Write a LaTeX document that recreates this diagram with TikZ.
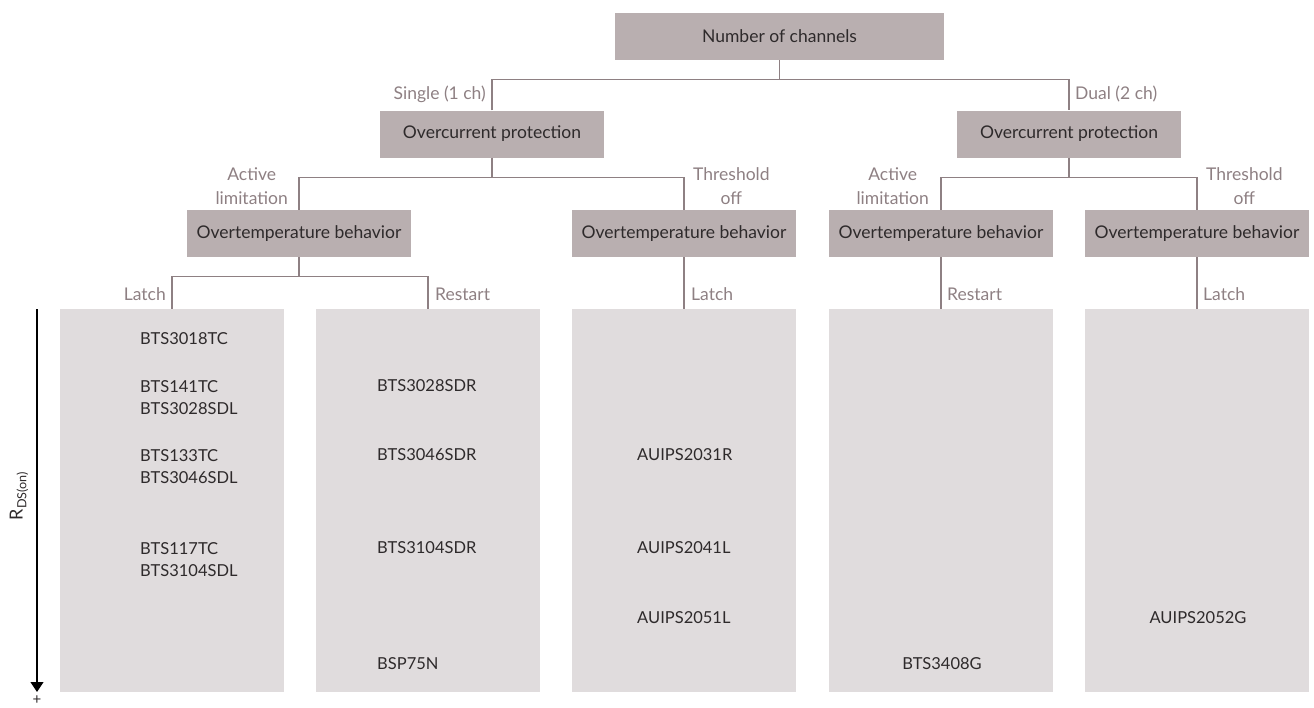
\documentclass[tikz,border=0pt]{standalone}
\usepackage{fontspec}
\setmainfont{Lato}
\usepackage{tikz}
\usetikzlibrary{calc}
\usetikzlibrary{arrows.meta}
\definecolor{qfill}{HTML}{B9AFB0}
\definecolor{pfill}{HTML}{E0DCDD}
\definecolor{qline}{HTML}{8E8083}
\definecolor{qtext}{HTML}{2E2A2B}
\newcommand{\qfont}{\fontsize{17.5}{24}\selectfont}
\newcommand{\pfont}{\fontsize{16.5}{22}\selectfont}
\tikzset{
  qbox/.style={fill=qfill, text=qtext, minimum width=224, minimum height=47, inner sep=0, font=\qfont},
  pbox/.style={fill=pfill, minimum width=224, minimum height=383, inner sep=0},
  part/.style={text=qtext, align=left, inner sep=0, font=\pfont},
  conn/.style={draw=qline, line width=1.1pt},
  lbl/.style={text=qline, align=center, inner sep=0, font=\qfont},
}
\begin{document}
\begin{tikzpicture}[x=1pt, y=-1pt]
\useasboundingbox (0,0) rectangle (1314,707);
% decision boxes
\node[qbox, minimum width=329] (num) at (779.5,36.5) {Number of channels};
\node[qbox] (ocs) at (492,134) {Overcurrent protection};
\node[qbox] (ocd) at (1069,134) {Overcurrent protection};
\node[qbox] (ots1) at (299,233.5) {Overtemperature behavior};
\node[qbox] (ots2) at (684,233.5) {Overtemperature behavior};
\node[qbox] (otd1) at (941,233.5) {Overtemperature behavior};
\node[qbox] (otd2) at (1197,233.5) {Overtemperature behavior};
% product columns
\foreach \n/\x in {p1/172, p2/428, p3/684, p4/941, p5/1197} {
  \node[pbox] (\n) at (\x,500.5) {};
}
% connectors
\coordinate (j0) at ($(num.south)+(0,19)$);
\draw[conn] (num.south) -- (j0);
\draw[conn] (ocs.north) |- (j0) -| (ocd.north);
\coordinate (j1) at ($(ocs.south)+(0,20)$);
\draw[conn] (ocs.south) -- (j1);
\draw[conn] (ots1.north) |- (j1) -| (ots2.north);
\coordinate (j2) at ($(ocd.south)+(0,20)$);
\draw[conn] (ocd.south) -- (j2);
\draw[conn] (otd1.north) |- (j2) -| (otd2.north);
\coordinate (j3) at ($(ots1.south)+(0,19)$);
\draw[conn] (ots1.south) -- (j3);
\draw[conn] (p1.north) |- (j3) -| (p2.north);
\draw[conn] (ots2.south) -- (p3.north);
\draw[conn] (otd1.south) -- (p4.north);
\draw[conn] (otd2.south) -- (p5.north);
% branch labels
\node[lbl, anchor=east] (l-single) at (486,94) {Single (1 ch)};
\node[lbl, anchor=west] (l-dual) at (1075,94) {Dual (2 ch)};
\node[lbl, anchor=east] (l-act1) at (288,186) {Active\\limitation};
\node[lbl, anchor=west] (l-thr1) at (693,186) {Threshold\\off};
\node[lbl, anchor=east] (l-act2) at (929,186) {Active\\limitation};
\node[lbl, anchor=west] (l-thr2) at (1206,186) {Threshold\\off};
\node[lbl, anchor=east] (l-latch1) at (166,294) {Latch};
\node[lbl, anchor=west] (l-rest1) at (435,294) {Restart};
\node[lbl, anchor=west] (l-latch2) at (691,294) {Latch};
\node[lbl, anchor=west] (l-rest2) at (947,294) {Restart};
\node[lbl, anchor=west] (l-latch3) at (1203,294) {Latch};
% parts
\node[part, anchor=west] (a1) at (140,339) {BTS3018TC};
\node[part, anchor=west] (a2) at (140,398) {BTS141TC\\BTS3028SDL};
\node[part, anchor=west] (a3) at (140,467) {BTS133TC\\BTS3046SDL};
\node[part, anchor=west] (a4) at (140,559.5) {BTS117TC\\BTS3104SDL};
\node[part, anchor=west] (b1) at (377,386) {BTS3028SDR};
\node[part, anchor=west] (b2) at (377,455) {BTS3046SDR};
\node[part, anchor=west] (b3) at (377,548) {BTS3104SDR};
\node[part, anchor=west] (b4) at (377,664) {BSP75N};
\node[part, anchor=west] (c1) at (637,455) {AUIPS2031R};
\node[part, anchor=west] (c2) at (637,548) {AUIPS2041L};
\node[part, anchor=west] (c3) at (637,618) {AUIPS2051L};
\node[part] (d1) at (942,664) {BTS3408G};
\node[part] (e1) at (1198,618) {AUIPS2052G};
% R_DS(on) axis
\coordinate (rtop) at (37,309);
\coordinate (rbot) at (37,692);
\draw[black, line width=1.1pt, -{Triangle[width=13pt,length=10pt]}] (rtop) -- (rbot);
\node[text=qtext, rotate=90, inner sep=0, font=\fontsize{18}{18}\selectfont] (rds) at (19,496) {R\textsubscript{DS(on)}};
\node[text=qtext, inner sep=0, font=\fontsize{15}{15}\selectfont] (rplus) at (37,700) {+};
\end{tikzpicture}
\end{document}
